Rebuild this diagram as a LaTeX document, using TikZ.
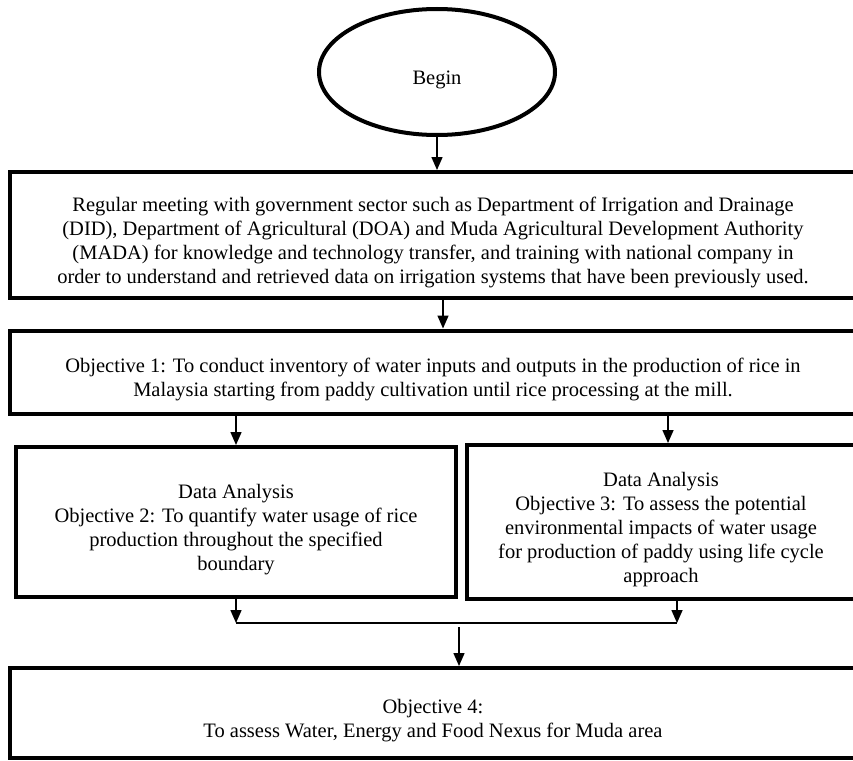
\documentclass[tikz,border=0pt]{standalone}
\usepackage{fontspec}
\setmainfont{Liberation Serif}
\usetikzlibrary{shapes.geometric,arrows.meta}

\tikzset{
	stage/.style={draw, rectangle, line width=4pt, align=center, inner sep=0pt},
	arr/.style={line width=1.5pt, -{Triangle[length=13pt,width=11pt]}},
}
\newcommand{\toplift}{\rule{0pt}{29pt}}	% pushes the first line down a little

\begin{document}
\begin{tikzpicture}[x=1pt, y=-1pt, font=\fontsize{20.5}{24}\selectfont]
	\useasboundingbox[fill=white] (0,0) rectangle (853,760);

	%% Start of the flow
	\node at (437,72) [draw, ellipse, line width=4pt, minimum width=236pt, minimum height=126pt] (begin) {\toplift Begin};

	%% The stages -- right sides run off the page
	\node at (433,235) [stage, minimum width=846pt, minimum height=126pt] (meet) {\toplift Regular meeting with government sector such as Department of Irrigation and Drainage\\(DID), Department of Agricultural (DOA) and Muda Agricultural Development Authority\\(MADA) for knowledge and technology transfer, and training with national company in\\order to understand and retrieved data on irrigation systems that have been previously used.};
	\node at (433,372) [stage, minimum width=847pt, minimum height=83pt] (obja) {\toplift Objective 1: To conduct inventory of water inputs and outputs in the production of rice in\\Malaysia starting from paddy cultivation until rice processing at the mill.};
	\node at (236,522) [stage, minimum width=440pt, minimum height=150pt] (objb) {\toplift Data Analysis\\Objective 2: To quantify water usage of rice\\production throughout the specified\\boundary};
	\node at (661,522) [stage, minimum width=389pt, minimum height=154pt] (objc) {\toplift Data Analysis\\Objective 3: To assess the potential\\environmental impacts of water usage\\for production of paddy using life cycle\\approach};
	\node at (433,713) [stage, minimum width=847pt, minimum height=90pt] (objd) {\toplift Objective 4:\\To assess Water, Energy and Food Nexus for Muda area};

	%% Helper points for the connectors
	\coordinate (ma) at ([xshift=10pt]meet.south);	% below the meeting box
	\coordinate (tc) at ([xshift=7pt]objc.north);	% into objective 3
	\coordinate (bc) at ([xshift=16pt]objc.south);	% out of objective 3
	\coordinate (jl) at (objb.south |- 0,623);		% left end of the join
	\coordinate (jr) at (bc |- 0,623);			% right end of the join
	\coordinate (jm) at (459,627);				% top of the last arrow

	%% Connectors
	\draw [arr] (begin.south) -- (begin.south |- meet.north);
	\draw [arr] (ma) -- (ma |- obja.north);
	\draw [arr] (obja.south -| objb.north) -- (objb.north);
	\draw [arr] (tc |- obja.south) -- (tc);
	\draw [arr] (objb.south) -- (jl);
	\draw [arr] (bc) -- (jr);
	\draw [line width=1.5pt] (jl) -- (jr);
	\draw [arr] (jm) -- (jm |- objd.north);
\end{tikzpicture}
\end{document}
